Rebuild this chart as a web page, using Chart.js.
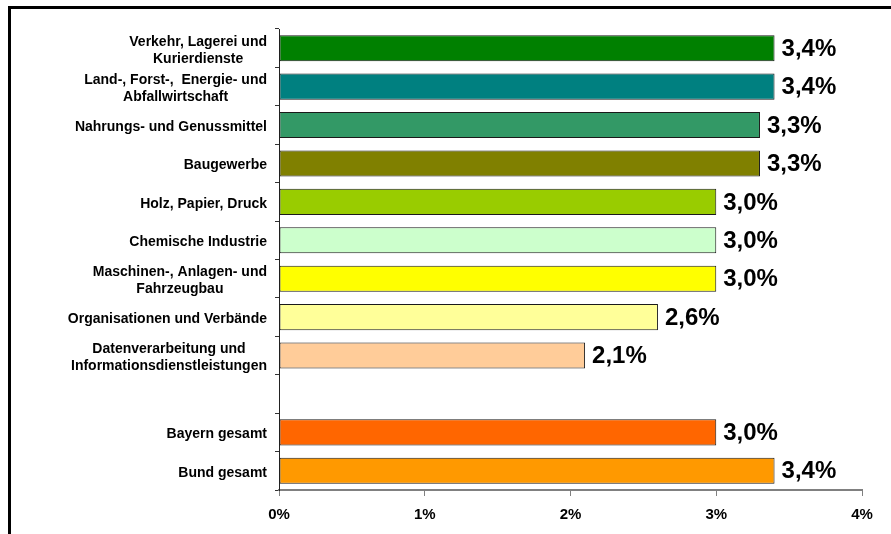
<!DOCTYPE html>
<html>
<head>
<meta charset="utf-8">
<script src="https://cdn.jsdelivr.net/npm/chart.js@4"></script>
<style>
  html, body { margin: 0; padding: 0; background: #fff; }
  #wrap { position: relative; width: 891px; height: 534px; }
  #frame { position: absolute; left: 8px; top: 6px; right: 0; bottom: 0; border-left: 3px solid #000; border-top: 3px solid #000; pointer-events: none; }
  canvas { position: absolute; left: 0; top: 0; }
</style>
</head>
<body>
<div id="wrap">
  <canvas id="chart" width="891" height="534"></canvas>
  <div id="frame"></div>
</div>
<script>
// Branchen (leere Zeile = Abstand vor den Gesamtwerten)
var labels = [
    ["Verkehr, Lagerei und", "Kurierdienste"],
    ["Land-, Forst-,  Energie- und", "Abfallwirtschaft"],
    ["Nahrungs- und Genussmittel"],
    ["Baugewerbe"],
    ["Holz, Papier, Druck"],
    ["Chemische Industrie"],
    ["Maschinen-, Anlagen- und", "Fahrzeugbau"],
    ["Organisationen und Verbände"],
    ["Datenverarbeitung und", "Informationsdienstleistungen"],
    [""],
    ["Bayern gesamt"],
    ["Bund gesamt"]
];
var values = [3.4, 3.4, 3.3, 3.3, 3.0, 3.0, 3.0, 2.6, 2.1, null, 3.0, 3.4];
var colors = ["#008000", "#008080", "#339966", "#808000", "#99CC00", "#CCFFCC",
              "#FFFF00", "#FFFF99", "#FFCC99", "#FFFFFF", "#FF6600", "#FF9900"];
var xTicks = [0, 1, 2, 3, 4];

function pct(v) { return v.toFixed(1).replace(".", ",") + "%"; }

// Kategorienamen: Block rechtsbündig, Zeilen zentriert
var yLabelPlugin = {
    id: "yLabels",
    afterDraw: function (chart) {
        var ctx = chart.ctx, y = chart.scales.y;
        ctx.save();
        ctx.font = "bold 14px 'Liberation Sans', Arial, sans-serif";
        ctx.fillStyle = "#000";
        ctx.textAlign = "center";
        ctx.textBaseline = "middle";
        labels.forEach(function (lines, i) {
            var cy = y.getPixelForValue(i) + 2;
            var w = 0;
            lines.forEach(function (l) { w = Math.max(w, ctx.measureText(l).width); });
            var cx = 267 - w / 2, lh = 17;
            lines.forEach(function (l, j) {
                ctx.fillText(l, cx, cy + (j - (lines.length - 1) / 2) * lh);
            });
        });
        ctx.restore();
    }
};

// Werte rechts neben den Balken
var valuePlugin = {
    id: "values",
    afterDatasetsDraw: function (chart) {
        var ctx = chart.ctx, meta = chart.getDatasetMeta(0);
        ctx.save();
        ctx.font = "bold 24px 'Liberation Sans', Arial, sans-serif";
        ctx.fillStyle = "#000";
        ctx.textAlign = "left";
        ctx.textBaseline = "middle";
        meta.data.forEach(function (el, i) {
            if (values[i] === null) return;
            ctx.fillText(pct(values[i]), el.x + 7, el.y + 1);
        });
        ctx.restore();
    }
};

new Chart(document.getElementById("chart"), {
    type: "bar",
    data: {
        labels: labels.map(function (l) { return l.join(" "); }),
        datasets: [{
            data: values,
            backgroundColor: colors,
            borderColor: "#1a1a1a",
            borderWidth: 1,
            borderSkipped: false,
            barPercentage: 0.68,
            categoryPercentage: 1
        }]
    },
    options: {
        indexAxis: "y",
        responsive: false,
        animation: false,
        layout: { padding: { top: 29, right: 29, left: 0, bottom: 0 } },
        plugins: { legend: { display: false }, tooltip: { enabled: false } },
        scales: {
            x: {
                min: 0, max: 4,
                afterBuildTicks: function (s) { s.ticks = xTicks.map(function (v) { return { value: v }; }); },
                afterFit: function (s) { s.height = 44; },
                ticks: {
                    callback: function (v) { return v + "%"; },
                    font: { family: "'Liberation Sans', Arial, sans-serif", size: 15, weight: "bold" },
                    color: "#000",
                    padding: 10,
                    maxRotation: 0
                },
                grid: { drawOnChartArea: false, drawTicks: true, tickLength: 6, color: "#808080", lineWidth: 1 },
                border: { color: "#808080", width: 2 }
            },
            y: {
                afterFit: function (s) { s.width = 279; },
                ticks: { callback: function () { return ""; } },
                grid: { drawOnChartArea: false, drawTicks: true, tickLength: 4, color: "#333", lineWidth: 1, offset: true },
                border: { color: "#222", width: 1 }
            }
        }
    },
    plugins: [yLabelPlugin, valuePlugin]
});
</script>
</body>
</html>
